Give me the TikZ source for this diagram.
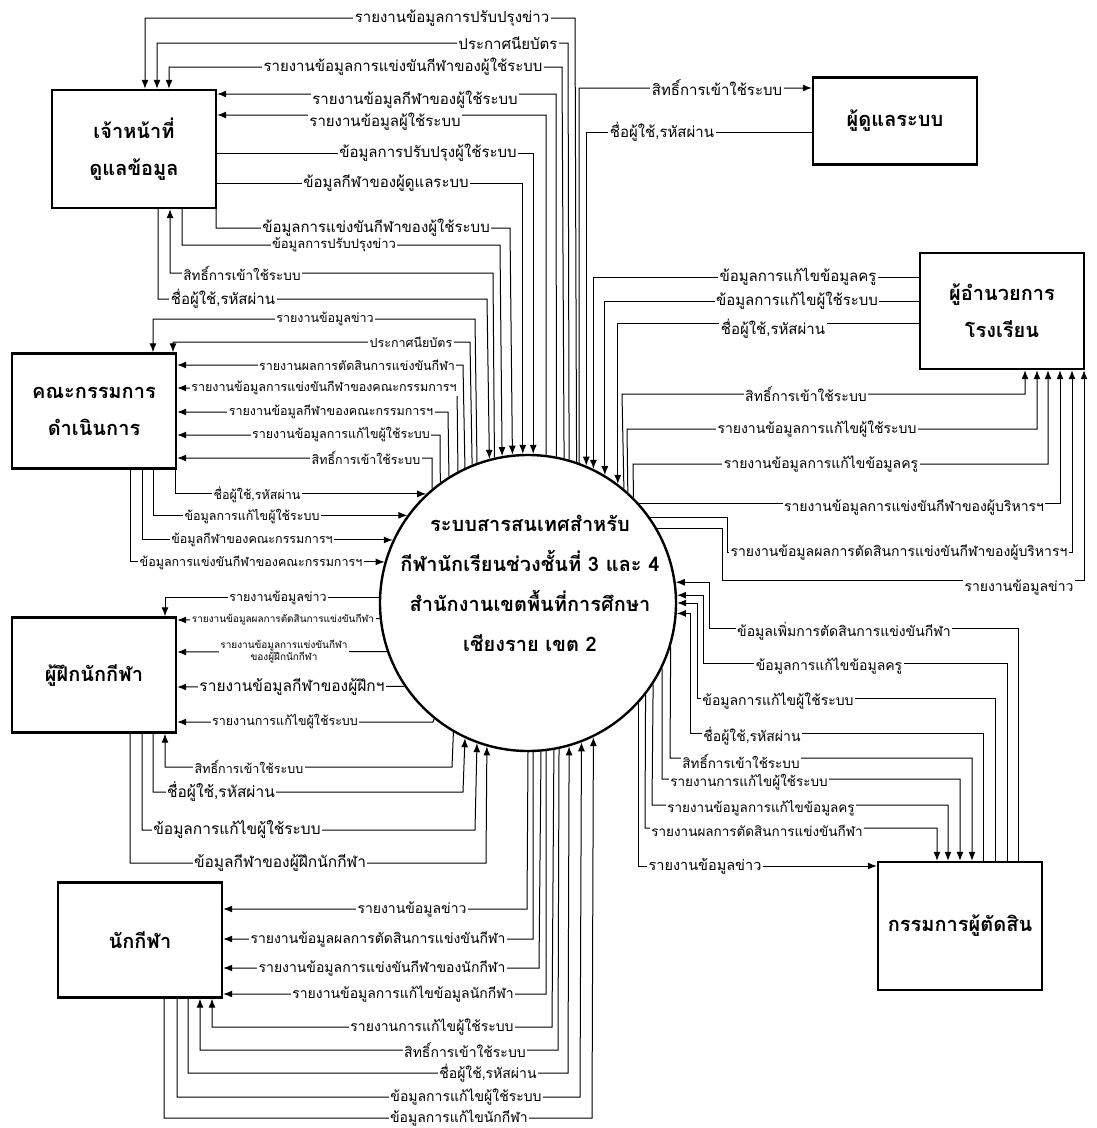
\documentclass[tikz,border=0pt]{standalone}
\usepackage{fontspec}
\newfontfamily\thaifont[Script=Thai]{Loma}
\usetikzlibrary{
	arrows.meta,    %箭头
	calc,
	positioning
}
\tikzset{
	every picture/.style={
		>={Latex[length=9pt,width=7pt]},
		node distance=5mm and 5mm
}}
\tikzset{
	entity/.style={draw,line width=2.4pt,minimum width=164pt,align=center,
		font=\thaifont\bfseries\fontsize{20}{37}\selectfont},
	flow/.style={line width=1pt,->},
	lbl/.style={fill=white,inner sep=1.5pt,align=center,
		font=\thaifont\fontsize{#1}{#1}\selectfont},
	lbl/.default=14
}

\begin{document}
\begin{tikzpicture}[x=1pt,y=-1pt]
	\useasboundingbox (0,0) rectangle (1097,1128);
	
	\node[circle,draw,line width=2.4pt,minimum size=296pt,inner sep=0pt] (sys) at (528,603) {};
	\node[font=\thaifont\bfseries\fontsize{20}{40}\selectfont,align=center] (systxt) at (530,583)
	{ระบบสารสนเทศสำหรับ\\กีฬานักเรียนช่วงชั้นที่ 3 และ 4\\สำนักงานเขตพื้นที่การศึกษา\\เชียงราย เขต 2};
	
	\node[entity,minimum height=118pt] (staff) at (134,149) {เจ้าหน้าที่\\ดูแลข้อมูล};
	\node[entity,minimum height=87pt] (sysadm) at (895,121) {ผู้ดูแลระบบ};
	\node[entity,minimum height=116pt] (director) at (1002,311) {ผู้อำนวยการ\\โรงเรียน};
	\node[entity,minimum height=115pt] (committee) at (94,411) {คณะกรรมการ\\ดำเนินการ};
	\node[entity,minimum height=115pt] (coach) at (94,675) {ผู้ฝึกนักกีฬา};
	\node[entity,minimum height=115pt] (athlete) at (140,940) {นักกีฬา};
	\node[entity,minimum height=128pt] (referee) at (960,926) {กรรมการผู้ตัดสิน};
	
	% staff
	\foreach \xv/\y/\xb/\xl/\t in {575/18/145/452/{รายงานข้อมูลการปรับปรุงข่าว},
		568/43/157/508/{ประกาศนียบัตร},
		562/67/169/403/{รายงานข้อมูลการแข่งขันกีฬาของผู้ใช้ระบบ}}{
		\pgfmathsetmacro\ang{acos((\xv-528)/149.2)}
		\draw[flow] (sys.\ang) -- (\xv,\y) -| (staff.north -| \xb,0);
		\node[lbl=15] (s\y) at (\xl,\y) {\t};
	}
	\foreach \xv/\y/\xl/\yl/\t in {556/94/415/100/{รายงานข้อมูลกีฬาของผู้ใช้ระบบ},
		546/115/385/122/{รายงานข้อมูลผู้ใช้ระบบ}}{
		\pgfmathsetmacro\ang{acos((\xv-528)/149.2)}
		\draw[flow] (sys.\ang) -- (\xv,\y) -- (staff.east |- 0,\y);
		\node[lbl=15] (s\y) at (\xl,\yl) {\t};
	}
	\foreach \y/\xv/\xl/\t in {153/533/428/{ข้อมูลการปรับปรุงผู้ใช้ระบบ},
		183/522/386/{ข้อมูลกีฬาของผู้ดูแลระบบ}}{
		\pgfmathsetmacro\ang{acos((\xv-528)/149.2)}
		\draw[flow] (staff.east |- 0,\y) -| (sys.\ang);
		\node[lbl=15] (s\y) at (\xl,\y) {\t};
	}
	\foreach \xb/\y/\xv/\xl/\fs/\t in {216/228/510/376/15/{ข้อมูลการแข่งขันกีฬาของผู้ใช้ระบบ},
		182/245/500/334/13/{ข้อมูลการปรับปรุงข่าว},
		158/299/487/223/15/{ชื่อผู้ใช้,รหัสผ่าน}}{
		\pgfmathsetmacro\ang{acos((\xv-528)/149.2)}
		\draw[flow] (staff.south -| \xb,0) |- (\xv,\y) -- (sys.\ang);
		\node[lbl=\fs] (s\y) at (\xl,\y) {\t};
	}
	\pgfmathsetmacro\ang{acos((493-528)/149.2)}
	\draw[flow] (sys.\ang) -- (493,273) -| (staff.south -| 170,0);
	\node[lbl=13.5] (s273) at (242,273) {สิทธิ์การเข้าใช้ระบบ};
	
	% sysadm
	\pgfmathsetmacro\ang{acos((579-528)/149.2)}
	\draw[flow] (sys.\ang) -- (579,88) -- (sysadm.west |- 0,88);
	\node[lbl=15] (a88) at (717,88) {สิทธิ์การเข้าใช้ระบบ};
	\pgfmathsetmacro\ang{acos((586-528)/149.2)}
	\draw[flow] (sysadm.west |- 0,132) -| (sys.\ang);
	\node[lbl=15] (a132) at (662,132) {ชื่อผู้ใช้,รหัสผ่าน};
	
	% director
	\foreach \y/\xv/\xl/\yl/\t in {277/593/798/277/{ข้อมูลการแก้ไขข้อมูลครู},
		301/604/797/301/{ข้อมูลการแก้ไขผู้ใช้ระบบ},
		323/616/773/329/{ชื่อผู้ใช้,รหัสผ่าน}}{
		\pgfmathsetmacro\ang{acos((\xv-528)/149.2)}
		\draw[flow] (director.west |- 0,\y) -| (sys.\ang);
		\node[lbl=15] (d\y) at (\xl,\yl) {\t};
	}
	\foreach \xv/\y/\xb/\xl/\t in {622/394/1025/806/{สิทธิ์การเข้าใช้ระบบ},
		627/429/1037/817/{รายงานข้อมูลการแก้ไขผู้ใช้ระบบ},
		633/464/1048/821/{รายงานข้อมูลการแก้ไขข้อมูลครู}}{
		\pgfmathsetmacro\ang{acos((\xv-528)/149.2)}
		\draw[flow] (sys.\ang) -- (\xv,\y) -| (director.south -| \xb,0);
		\node[lbl=14] (d\y) at (\xl,\y) {\t};
	}
	\pgfmathsetmacro\ang{asin((603-502)/149.2)}
	\draw[flow] (sys.\ang) -| (director.south -| 1060,0);
	\node[lbl=14] (d502) at (914,507) {รายงานข้อมูลการแข่งขันกีฬาของผู้บริหารฯ};
	\pgfmathsetmacro\ang{asin((603-517)/149.2)}
	\draw[flow] (sys.\ang) -| (727,552) -| (director.south -| 1072,0);
	\node[lbl=14] (d552) at (899,552) {รายงานข้อมูลผลการตัดสินการแข่งขันกีฬาของผู้บริหารฯ};
	\pgfmathsetmacro\ang{asin((603-528)/149.2)}
	\draw[flow] (sys.\ang) -| (722,580) -| (director.south -| 1084,0);
	\node[lbl=14] (d580) at (1019,587) {รายงานข้อมูลข่าว};
	
	% referee
	\foreach \xb/\y/\xm/\ya/\xl/\t in {1018/628/709/582/844/{ข้อมูลเพิ่มการตัดสินการแข่งขันกีฬา},
		1007/663/703/593/829/{ข้อมูลการแก้ไขข้อมูลครู},
		995/698/697/603/778/{ข้อมูลการแก้ไขผู้ใช้ระบบ},
		983/733/690/615/752/{ชื่อผู้ใช้,รหัสผ่าน}}{
		\pgfmathsetmacro\ang{asin((603-\ya)/149.2)}
		\draw[flow] (referee.north -| \xb,0) |- (\xm,\y) |- (sys.\ang);
		\node[lbl=14] (r\y) at (\xl,\y+3) {\t};
	}
	\foreach \xv/\y/\xb/\xl/\t in {670/758/972/741/{สิทธิ์การเข้าใช้ระบบ},
		662/779/960/749/{รายงานการแก้ไขผู้ใช้ระบบ},
		652/805/948/761/{รายงานข้อมูลการแก้ไขข้อมูลครู},
		645/828/937/757/{รายงานผลการตัดสินการแข่งขันกีฬา}}{
		\pgfmathsetmacro\ang{-acos((\xv-528)/149.2)}
		\draw[flow] (sys.\ang) -- (\xv,\y) -| (referee.north -| \xb,0);
		\node[lbl=13.5] (r\y) at (\xl,\y+3) {\t};
	}
	\pgfmathsetmacro\ang{-acos((638-528)/149.2)}
	\draw[flow] (sys.\ang) |- (referee.west |- 0,866);
	\node[lbl=14.5] (r866) at (705,866) {รายงานข้อมูลข่าว};
	
	% committee
	\foreach \xv/\y/\xb/\xl/\t in {475/319/153/325/{รายงานข้อมูลข่าว},
		470/342/173/411/{ประกาศนียบัตร}}{
		\pgfmathsetmacro\ang{acos((\xv-528)/149.2)}
		\draw[flow] (sys.\ang) -- (\xv,\y) -| (committee.north -| \xb,0);
		\node[lbl=12.5] (k\y) at (\xl,\y) {\t};
	}
	\foreach \xv/\y/\xl/\t in {463/365/357/{รายงานผลการตัดสินการแข่งขันกีฬา},
		457/388/324/{รายงานข้อมูลการแข่งขันกีฬาของคณะกรรมการฯ},
		448/412/331/{รายงานข้อมูลกีฬาของคณะกรรมการฯ},
		440/435/341/{รายงานข้อมูลการแก้ไขผู้ใช้ระบบ},
		432/458/366/{สิทธิ์การเข้าใช้ระบบ}}{
		\pgfmathsetmacro\ang{acos((\xv-528)/149.2)}
		\draw[flow] (sys.\ang) -- (\xv,\y) -- (committee.east |- 0,\y);
		\node[lbl=12.5] (k\y) at (\xl,\y) {\t};
	}
	\foreach \xb/\y/\xl/\t in {175/495/257/{ชื่อผู้ใช้,รหัสผ่าน},
		153/517/252/{ข้อมูลการแก้ไขผู้ใช้ระบบ},
		142/540/252/{ข้อมูลกีฬาของคณะกรรมการฯ},
		130/563/251/{ข้อมูลการแข่งขันกีฬาของคณะกรรมการฯ}}{
		\pgfmathsetmacro\ang{180-asin((603-\y)/149.2)}
		\draw[flow] (committee.south -| \xb,0) |- (sys.\ang);
		\node[lbl=12.5] (k\y) at (\xl,\y) {\t};
	}
	
	% coach
	\pgfmathsetmacro\ang{180-asin((603-598)/149.2)}
	\draw[flow] (sys.\ang) -| (coach.north -| 165,0);
	\node[lbl=12.5] (c598) at (278,598) {รายงานข้อมูลข่าว};
	\foreach \y/\xl/\fs/\t in {620/283/10/{รายงานข้อมูลผลการตัดสินการแข่งขันกีฬา},
		652/284/10/{รายงานข้อมูลการแข่งขันกีฬา\\ของผู้ฝึกนักกีฬา},
		687/292/15.5/{รายงานข้อมูลกีฬาของผู้ฝึกฯ}}{
		\pgfmathsetmacro\ang{180-asin((603-\y)/149.2)}
		\draw[flow] (sys.\ang) -- (coach.east |- 0,\y);
		\node[lbl=\fs] (c\y) at (\xl,\y) {\t};
	}
	\pgfmathsetmacro\ang{-acos((433-528)/149.2)}
	\draw[flow] (sys.\ang) -- (433,722) -- (coach.east |- 0,722);
	\node[lbl=12.5] (c722) at (285,722) {รายงานการแก้ไขผู้ใช้ระบบ};
	\pgfmathsetmacro\ang{-acos((452-528)/149.2)}
	\draw[flow] (sys.\ang) -- (452,767) -| (coach.south -| 165,0);
	\node[lbl=12.5] (c767) at (249,767) {สิทธิ์การเข้าใช้ระบบ};
	\foreach \xb/\y/\xv/\xl/\t in {153/792/463/221/{ชื่อผู้ใช้,รหัสผ่าน},
		142/830/475/237/{ข้อมูลการแก้ไขผู้ใช้ระบบ},
		130/863/486/280/{ข้อมูลกีฬาของผู้ฝึกนักกีฬา}}{
		\pgfmathsetmacro\ang{-acos((\xv-528)/149.2)}
		\draw[flow] (coach.south -| \xb,0) |- (\xv,\y) -- (sys.\ang);
		\node[lbl=15.5] (c\y) at (\xl,\y) {\t};
	}
	
	% athlete
	\foreach \xv/\y/\xl/\t in {527/909/412/{รายงานข้อมูลข่าว},
		533/939/378/{รายงานข้อมูลผลการตัดสินการแข่งขันกีฬา},
		539/968/382/{รายงานข้อมูลการแข่งขันกีฬาของนักกีฬา},
		546/994/403/{รายงานข้อมูลการแก้ไขข้อมูลนักกีฬา}}{
		\pgfmathsetmacro\ang{-acos((\xv-528)/149.2)}
		\draw[flow] (sys.\ang) -- (\xv,\y) -- (athlete.east |- 0,\y);
		\node[lbl=14] (t\y) at (\xl,\y) {\t};
	}
	\foreach \xv/\y/\xb/\xl/\t in {552/1027/212/432/{รายงานการแก้ไขผู้ใช้ระบบ},
		558/1050/200/465/{สิทธิ์การเข้าใช้ระบบ}}{
		\pgfmathsetmacro\ang{-acos((\xv-528)/149.2)}
		\draw[flow] (sys.\ang) -- (\xv,\y) -| (athlete.south -| \xb,0);
		\node[lbl=14] (t\y) at (\xl,\y) {\t};
	}
	\foreach \xb/\y/\xv/\xl/\t in {188/1073/568/488/{ชื่อผู้ใช้,รหัสผ่าน},
		177/1097/580/466/{ข้อมูลการแก้ไขผู้ใช้ระบบ},
		164/1118/592/459/{ข้อมูลการแก้ไขนักกีฬา}}{
		\pgfmathsetmacro\ang{-acos((\xv-528)/149.2)}
		\draw[flow] (athlete.south -| \xb,0) |- (\xv,\y) -- (sys.\ang);
		\node[lbl=14] (t\y) at (\xl,\y) {\t};
	}
\end{tikzpicture}
\end{document}
